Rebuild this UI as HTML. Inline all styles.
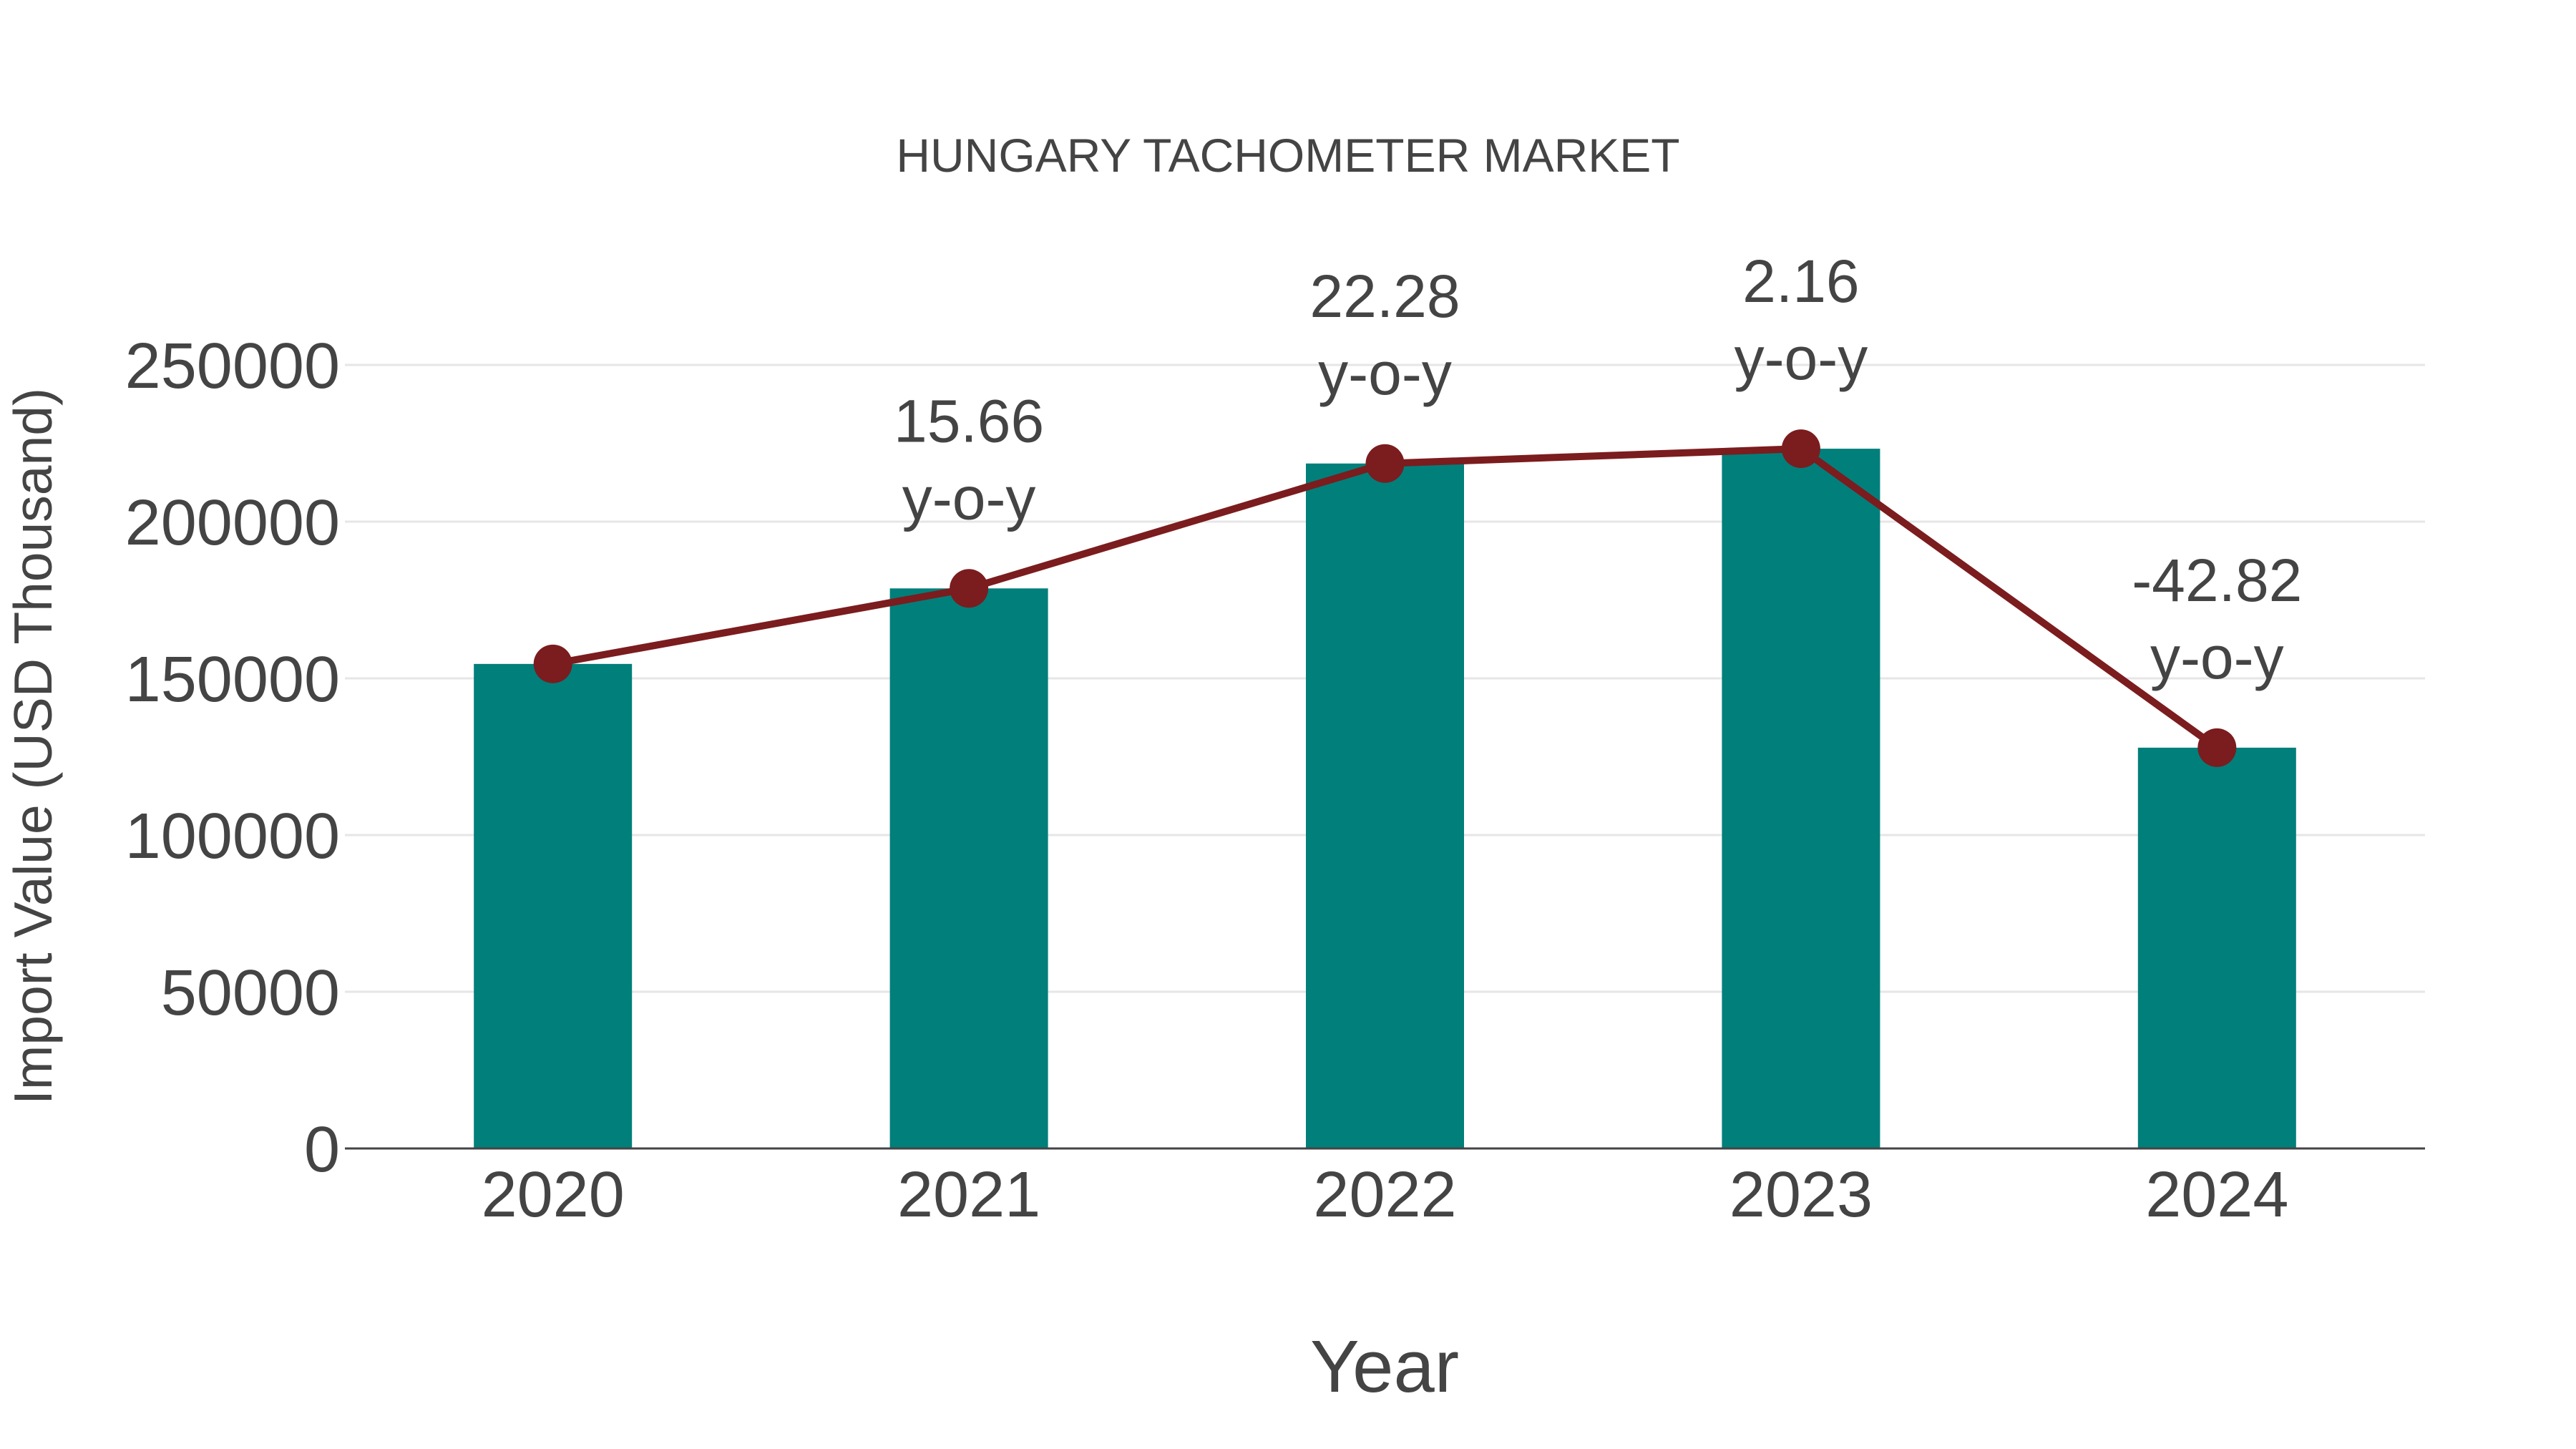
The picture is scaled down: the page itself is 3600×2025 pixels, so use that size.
<!DOCTYPE html>
<html><head><meta charset="utf-8"><style>
html,body{margin:0;padding:0;background:#fff;}
svg{display:block;font-family:"Liberation Sans",Arial,sans-serif;}
</style></head><body>
<svg id="chart" width="3600" height="2025" xmlns="http://www.w3.org/2000/svg">
<rect width="3600" height="2025" fill="#fff"/>
<text x="1800" y="240" text-anchor="middle" font-size="66" fill="#444">HUNGARY TACHOMETER MARKET</text>
<g id="grid"></g><g id="bars"></g><g id="line"></g><g id="labels"></g>
<text x="1935" y="1945" text-anchor="middle" font-size="103" fill="#444">Year</text>
<text transform="translate(72,1043) rotate(-90)" text-anchor="middle" font-size="75" fill="#444">Import Value (USD Thousand)</text>
</svg>
<script>
const categories = ["2020","2021","2022","2023","2024"];
const values = [154600, 178700, 218550, 223270, 127880];
const yoyLabels = ["", "15.66", "22.28", "2.16", "-42.82"];
const yTicks = [0, 50000, 100000, 150000, 200000, 250000];

const NS = "http://www.w3.org/2000/svg";
const left = 482, right = 3389, y0 = 1605, y250 = 510;
const band = (right - left) / categories.length;
const barW = 221;
function xScale(i){ return left + band * (i + 0.5); }
function yScale(v){ return y0 - (v / 250000) * (y0 - y250); }
function mk(tag, attrs, parent){
  const e = document.createElementNS(NS, tag);
  for (const k in attrs) e.setAttribute(k, attrs[k]);
  parent.appendChild(e); return e;
}
const grid = document.getElementById('grid'), bars = document.getElementById('bars'),
      lineG = document.getElementById('line'), labels = document.getElementById('labels');

yTicks.forEach(t => {
  const y = yScale(t);
  if (t !== 0) {
    const g = mk('line', {x1:left, x2:right, y1:y, y2:y, stroke:'#e6e6e6', 'stroke-width':3}, grid);
    
    
  }
  const tl = mk('text', {x:475, y:y+32, 'text-anchor':'end', 'font-size':90, fill:'#444'}, grid);
  tl.textContent = t;
  
  
});

categories.forEach((c, i) => {
  const x = xScale(i), y = yScale(values[i]);
  const b = mk('rect', {x:x-barW/2, y:y, width:barW, height:y0-y, fill:'#007f7b'}, bars);
  
  
  const xl = mk('text', {x:x, y:1700, 'text-anchor':'middle', 'font-size':90, fill:'#444'}, labels);
  xl.textContent = c;
  
  
});

const axis = mk('line', {x1:left, x2:right, y1:y0, y2:y0, stroke:'#444', 'stroke-width':3}, bars);



const pts = values.map((v, i) => xScale(i) + ',' + yScale(v)).join(' ');
const pl = mk('polyline', {points:pts, fill:'none', stroke:'#7b1c1e', 'stroke-width':10}, lineG);



values.forEach((v, i) => {
  const x = xScale(i), y = yScale(v);
  const m = mk('circle', {cx:x, cy:y, r:27, fill:'#7b1c1e'}, lineG);
  
  
  if (yoyLabels[i]) {
    const a = mk('text', {x:x, y:y-205, 'text-anchor':'middle', 'font-size':84, fill:'#444'}, labels);
    a.textContent = yoyLabels[i];
    
    
    const b2 = mk('text', {x:x, y:y-97, 'text-anchor':'middle', 'font-size':84, fill:'#444'}, labels);
    b2.textContent = 'y-o-y';
    
    
  }
});
</script>
</body></html>
